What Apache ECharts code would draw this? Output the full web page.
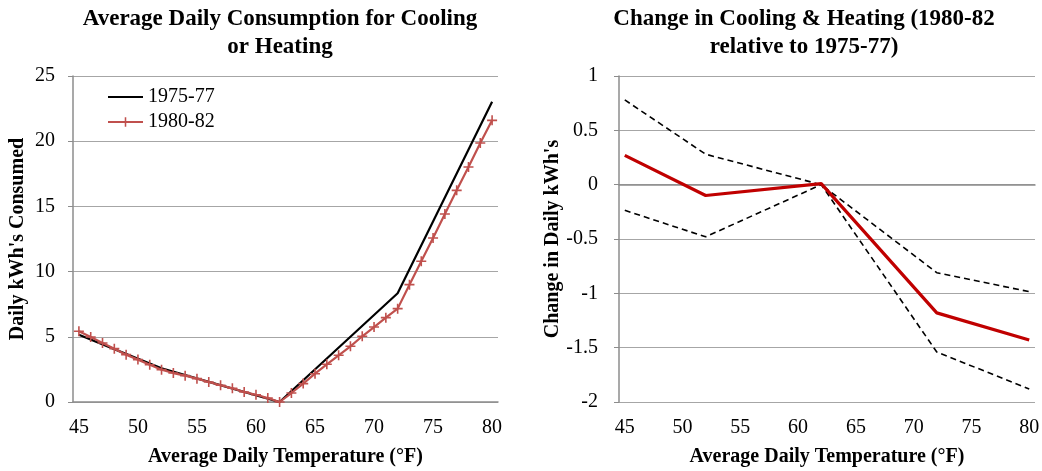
<!DOCTYPE html>
<html>
<head>
<meta charset="utf-8">
<script src="https://cdn.jsdelivr.net/npm/echarts@6/dist/echarts.min.js"></script>
<style>
  html, body { margin: 0; padding: 0; background: #fff; }
  #chart { width: 1042px; height: 471px; }
</style>
</head>
<body>
<div id="chart"></div>
<script>
// categories: 45..80 °F
var temps = ['45','46','47','48','49','50','51','52','53','54','55','56','57','58','59','60','61','62',
             '63','64','65','66','67','68','69','70','71','72','73','74','75','76','77','78','79','80'];
var xLabels = ['45','50','55','60','65','70','75','80'];

// 1980-82, one value per degree
var use8082 = [5.42,4.98,4.52,4.09,3.63,3.25,2.86,2.48,2.22,2.02,1.79,1.53,1.28,1.05,0.77,0.56,0.31,0,
               0.69,1.41,2.17,2.89,3.58,4.27,5.04,5.75,6.47,7.16,9.0,10.79,12.58,14.42,16.23,18.02,19.86,21.6];

// 1975-77 and the change chart only have break points
var nodeTemps = ['45','52','62','72','80'];
var use7577 = [5.15, 2.58, 0, 8.34, 23.03];
var changeMid = [0.27, -0.10, 0.01, -1.18, -1.43];
var changeHigh = [0.78, 0.28, 0.0, -0.81, -0.985];
var changeLow = [-0.236, -0.48, 0.0, -1.54, -1.88];

function onNodes(vals) { // put node values on the category axis, gaps elsewhere
  return temps.map(function (t) {
    var k = nodeTemps.indexOf(t);
    return k < 0 ? null : vals[k];
  });
}

var serif = 'Liberation Serif';
var gridGray = '#a6a6a6';
var axisGray = '#8c8c8c';

var catLabel = {
  interval: function (i, v) { return xLabels.indexOf(v) >= 0; },
  fontFamily: serif, fontSize: 20, color: '#000', margin: 16
};
var axisName = { fontFamily: serif, fontSize: 20, fontWeight: 'bold', color: '#000' };
var titleStyle = { fontFamily: serif, fontSize: 23, fontWeight: 'bold', color: '#000', lineHeight: 28 };

var option = {
  animation: false,
  title: [{
    text: 'Average Daily Consumption for Cooling\nor Heating',
    left: 275, top: 0, textAlign: 'center', textStyle: titleStyle
  }, {
    text: 'Change in Cooling & Heating (1980-82\nrelative to 1975-77)',
    left: 799, top: 0, textAlign: 'center', textStyle: titleStyle
  }],
  legend: {
    data: ['1975-77', '1980-82'],
    orient: 'vertical',
    left: 102, top: 82,
    itemWidth: 35, itemHeight: 12, itemGap: 5,
    textStyle: { fontFamily: serif, fontSize: 20, color: '#000' }
  },
  grid: [
    { left: 73, right: 544, top: 76, bottom: 69, outerBoundsMode: 'none' },
    { left: 619, right: 7, top: 76, bottom: 69, outerBoundsMode: 'none' }
  ],
  xAxis: [{
    gridIndex: 0, type: 'category', data: temps, boundaryGap: true,
    name: 'Average Daily Temperature (°F)', nameLocation: 'middle', nameGap: 45, nameTextStyle: axisName,
    axisLine: { lineStyle: { color: axisGray, width: 1.5 } },
    axisTick: { interval: 0, length: 5, lineStyle: { color: axisGray } },
    axisLabel: catLabel,
    splitLine: { show: false }
  }, {
    gridIndex: 1, type: 'category', data: temps, boundaryGap: true, position: 'bottom',
    name: 'Average Daily Temperature (°F)', nameLocation: 'middle', nameGap: 45, nameTextStyle: axisName,
    axisLine: { show: false, onZero: false },
    axisTick: { show: false },
    axisLabel: catLabel,
    splitLine: { show: false }
  }, {
    gridIndex: 1, type: 'category', data: temps, boundaryGap: true, position: 'bottom',
    axisLine: { onZero: true, lineStyle: { color: axisGray, width: 1.5 } },
    axisTick: { interval: 0, length: 5, lineStyle: { color: axisGray } },
    axisLabel: { show: false },
    splitLine: { show: false }
  }],
  yAxis: [{
    gridIndex: 0, type: 'value', min: 0, max: 25, interval: 5,
    name: "Daily kWh's Consumed", nameLocation: 'middle', nameGap: 45, nameTextStyle: axisName,
    axisLine: { show: true, lineStyle: { color: axisGray, width: 1.5 } },
    axisTick: { show: true, length: 5, lineStyle: { color: axisGray } },
    axisLabel: { fontFamily: serif, fontSize: 20, color: '#000', margin: 18 },
    splitLine: { lineStyle: { color: gridGray, width: 1.2 } }
  }, {
    gridIndex: 1, type: 'value', min: -2, max: 1, interval: 0.5,
    name: "Change in Daily kWh's", nameLocation: 'middle', nameGap: 56, nameTextStyle: axisName,
    axisLine: { show: true, lineStyle: { color: axisGray, width: 1.5 } },
    axisTick: { show: true, length: 5, lineStyle: { color: axisGray } },
    axisLabel: { fontFamily: serif, fontSize: 20, color: '#000', margin: 21 },
    splitLine: { lineStyle: { color: gridGray, width: 1.2 } }
  }],
  series: [{
    name: '1975-77', type: 'line', xAxisIndex: 0, yAxisIndex: 0,
    data: onNodes(use7577), connectNulls: true,
    symbol: 'none', color: '#000',
    itemStyle: { opacity: 0 },
    lineStyle: { color: '#000', width: 2.2 }
  }, {
    name: '1980-82', type: 'line', xAxisIndex: 0, yAxisIndex: 0,
    data: use8082, showAllSymbol: true,
    symbol: 'path://M-0.8,-5H0.8V-0.8H5V0.8H0.8V5H-0.8V0.8H-5V-0.8H-0.8Z',
    symbolSize: 10, color: '#c0504d',
    itemStyle: { color: '#c0504d', borderWidth: 0 },
    lineStyle: { color: '#c0504d', width: 2.2 }
  }, {
    name: 'change high', type: 'line', xAxisIndex: 2, yAxisIndex: 1,
    data: onNodes(changeHigh), connectNulls: true, symbol: 'none',
    lineStyle: { color: '#000', width: 1.6, type: [6, 4] }
  }, {
    name: 'change low', type: 'line', xAxisIndex: 2, yAxisIndex: 1,
    data: onNodes(changeLow), connectNulls: true, symbol: 'none',
    lineStyle: { color: '#000', width: 1.6, type: [6, 4] }
  }, {
    name: 'change', type: 'line', xAxisIndex: 2, yAxisIndex: 1,
    data: onNodes(changeMid), connectNulls: true, symbol: 'none',
    lineStyle: { color: '#c00000', width: 3.2 }
  }]
};

var myChart = echarts.init(document.getElementById('chart'));
myChart.setOption(option);
</script>
</body>
</html>
